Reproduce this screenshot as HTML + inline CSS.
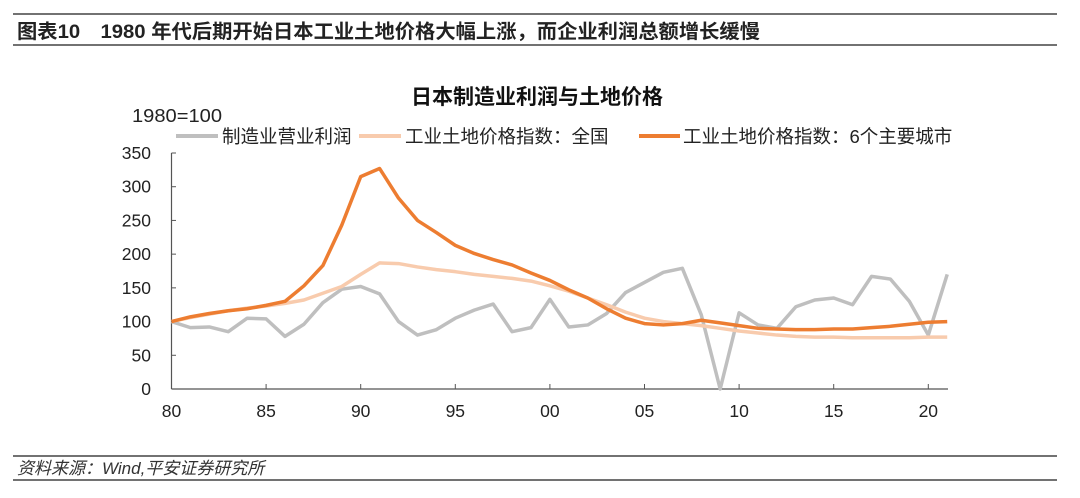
<!DOCTYPE html>
<html><head><meta charset="utf-8"><style>
body{margin:0;background:#fff;width:1080px;height:493px;overflow:hidden;font-family:"Liberation Sans","Noto Sans CJK SC",sans-serif;}
</style></head><body>
<svg width="1080" height="493" xmlns="http://www.w3.org/2000/svg" font-family="Liberation Sans, Noto Sans CJK SC, sans-serif">
<line x1="13" y1="14" x2="1057" y2="14" stroke="#444" stroke-width="1.5"/>
<text x="17" y="38" font-size="19.5" font-weight="bold" fill="#222" textLength="743" lengthAdjust="spacingAndGlyphs">图表10　1980 年代后期开始日本工业土地价格大幅上涨，而企业利润总额增长缓慢</text>
<line x1="13" y1="45" x2="1057" y2="45" stroke="#444" stroke-width="1.5"/>
<text x="537" y="104" font-size="21" font-weight="bold" text-anchor="middle" fill="#111">日本制造业利润与土地价格</text>
<text x="132" y="122" font-size="18" fill="#222" textLength="90" lengthAdjust="spacingAndGlyphs">1980=100</text>
<g font-size="18.5" fill="#222">
<line x1="176" y1="136" x2="218" y2="136" stroke="#bfbfbf" stroke-width="4"/>
<text x="222" y="143">制造业营业利润</text>
<line x1="359" y1="136" x2="401" y2="136" stroke="#f8cbad" stroke-width="4"/>
<text x="405" y="143">工业土地价格指数：全国</text>
<line x1="639" y1="136" x2="680" y2="136" stroke="#ed7d31" stroke-width="4"/>
<text x="683" y="143">工业土地价格指数：6个主要城市</text>
</g>
<g id="axes"></g>
<g id="plot"></g>
<line x1="13" y1="456" x2="1057" y2="456" stroke="#444" stroke-width="1.5"/>
<text x="17" y="474" font-size="17" font-style="italic" fill="#333">资料来源：Wind,平安证券研究所</text>
<line x1="13" y1="480" x2="1057" y2="480" stroke="#444" stroke-width="1.5"/>
</svg>
<script>
const years = Array.from({length:42},(_,i)=>1980+i);
const profit = [100,91,92,85,105,104,78,96,128,148,152,141,100,80,88,105,117,126,85,91,133,92,95,112,143,158,173,179,110,0,113,95,90,122,132,135,125,167,163,130,80,170];
const landNational = [100,106,111,116,120,123,127,132,142,152,170,187,186,181,177,174,170,167,164,160,153,145,135,125,114,105,100,97,94,90,86,83,80,78,77,77,76,76,76,76,77,77];
const landCities = [100,107,112,116,119,124,130,153,183,243,315,327,283,250,232,213,201,192,184,172,161,147,135,119,105,97,95,97,102,98,94,90,89,88,88,89,89,91,93,96,99,100];
const yTicks = [0,50,100,150,200,250,300,350];
const xTickYears = [1980,1985,1990,1995,2000,2005,2010,2015,2020];
const xTickLabels = ["80","85","90","95","00","05","10","15","20"];
const NS='http://www.w3.org/2000/svg';
const x = y => 171.5 + (y-1980)*18.92;
const yv = v => 389 - v*0.6743;
const axes=document.getElementById('axes'), plot=document.getElementById('plot');
function mk(tag,attrs,parent){const e=document.createElementNS(NS,tag);for(const k in attrs)e.setAttribute(k,attrs[k]);parent.appendChild(e);return e;}
const yl=mk('line',{x1:171.5,y1:yv(350),x2:171.5,y2:389,stroke:'#555','stroke-width':1.2},axes);


const xl=mk('line',{x1:171.5,y1:389,x2:948,y2:389,stroke:'#555','stroke-width':1.2},axes);


yTicks.forEach(t=>{
  mk('line',{x1:171.5,y1:yv(t),x2:176,y2:yv(t),stroke:'#555'},axes);
  const tx=mk('text',{x:151,y:yv(t)+6,'font-size':17.5,'text-anchor':'end',fill:'#222'},axes);
  tx.textContent=t;
  
  
});
xTickYears.forEach((yr,i)=>{
  mk('line',{x1:x(yr),y1:389,x2:x(yr),y2:384,stroke:'#555'},axes);
  const tx=mk('text',{x:x(yr),y:417,'font-size':17.5,'text-anchor':'middle',fill:'#222'},axes);
  tx.textContent=xTickLabels[i];
  
  
});
function line(data,color,w,name){
  const p=mk('polyline',{points:data.map((v,i)=>x(years[i])+','+yv(v)).join(' '),fill:'none',stroke:color,'stroke-width':w,'stroke-linejoin':'round'},plot);
  
  
}
line(profit,'#bfbfbf',3.5,'profit-line');
line(landNational,'#f8cbad',3.5,'land-national-line');
line(landCities,'#ed7d31',3.5,'land-cities-line');
</script>
</body></html>
